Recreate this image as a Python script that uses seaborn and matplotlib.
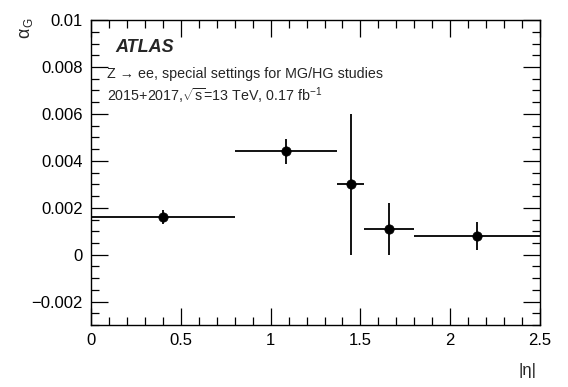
import numpy as np
import pandas as pd
import seaborn as sns
import matplotlib.pyplot as plt
from matplotlib.ticker import MultipleLocator

# Bin edges and measured alpha_G per |eta| bin.
bin_lo = [0.0, 0.8, 1.37, 1.52, 1.8]
bin_hi = [0.8, 1.37, 1.52, 1.8, 2.5]
alpha_g = [0.0016, 0.0044, 0.0030, 0.0011, 0.0008]
alpha_err = [0.0003, 0.00055, 0.0030, 0.0011, 0.0006]

df = pd.DataFrame({"lo": bin_lo, "hi": bin_hi, "alpha": alpha_g, "err": alpha_err})
df["eta"] = (df["lo"] + df["hi"]) / 2
df["xerr"] = (df["hi"] - df["lo"]) / 2

sns.set_style("ticks")
plt.rcParams["font.family"] = ["Liberation Sans", "DejaVu Sans"]
plt.rcParams["mathtext.fontset"] = "custom"
plt.rcParams["mathtext.rm"] = "Liberation Sans"
plt.rcParams["mathtext.it"] = "Liberation Sans:italic"

W, H = 568, 387
fig = plt.figure(figsize=(W / 100, H / 100), dpi=100)
ax = fig.add_axes([0.160, 0.160, 0.791, 0.788])

# Error bars, then markers via seaborn.
ax.errorbar(df["eta"], df["alpha"], xerr=df["xerr"], yerr=df["err"],
            fmt="none", ecolor="black", elinewidth=1.3, capsize=0)
sns.scatterplot(data=df, x="eta", y="alpha", color="black", s=45,
                edgecolor="black", zorder=3, ax=ax)

ax.set_xlim(0, 2.5)
ax.set_ylim(-0.003, 0.01)
ax.xaxis.set_minor_locator(MultipleLocator(0.1))
ax.yaxis.set_minor_locator(MultipleLocator(0.0005))
ax.set_xticks([0, 0.5, 1, 1.5, 2, 2.5])
ax.set_xticklabels(["0", "0.5", "1", "1.5", "2", "2.5"])
ax.set_yticks([-0.002, 0, 0.002, 0.004, 0.006, 0.008, 0.01])
ax.set_yticklabels(["\u22120.002", "0", "0.002", "0.004", "0.006", "0.008", "0.01"])

ax.tick_params(which="both", direction="in", top=True, right=True,
               labelsize=12, width=0.9, colors="black", pad=6)
ax.tick_params(which="major", length=12)
ax.tick_params(which="minor", length=6)
for sp in ax.spines.values():
    sp.set_linewidth(1.0)
    sp.set_color("black")

ax.set_xlabel("")
ax.set_ylabel("")
fig.text(528 / W, 1 - 370 / H, "|\u03b7|", fontsize=12, ha="center", va="center")
fig.text(25 / W, 1 - 33 / H, "\u03b1", fontsize=13, rotation=90, ha="center", va="center")
fig.text(29.5 / W, 1 - 22 / H, "G", fontsize=8.5, rotation=90, ha="center", va="center")

# ATLAS labels.
ax.text(0.055, 0.91, "ATLAS", transform=ax.transAxes, fontsize=13,
        fontweight="bold", fontstyle="italic", va="center")
ax.text(0.035, 0.822, "Z \u2192 ee, special settings for MG/HG studies",
        transform=ax.transAxes, fontsize=10.3, va="center",
        family=["DejaVu Sans"] if False else ["Liberation Sans", "DejaVu Sans"])
ax.text(0.035, 0.752, r"2015+2017,$\sqrt{\mathrm{s}}$=13 TeV, 0.17 fb$^{-1}$",
        transform=ax.transAxes, fontsize=10.3, va="center")

fig.savefig("out.png", dpi=100)
